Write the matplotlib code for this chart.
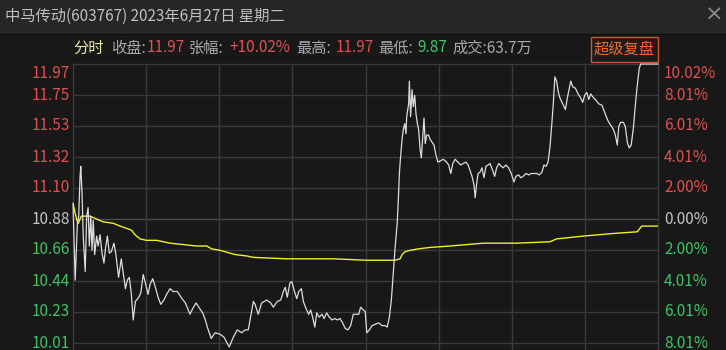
import matplotlib
matplotlib.use('Agg')
import matplotlib.pyplot as plt
from matplotlib.patches import Rectangle
import matplotlib.transforms as mtransforms

plt.rcParams['font.family'] = ['Noto Sans CJK SC', 'DejaVu Sans']

# 基本信息
stock_name = '中马传动'
stock_code = '603767'
trade_date = '2023年6月27日 星期二'
prev_close = 10.88
limit_up = 11.97
close_price = '11.97'
change_pct = '+10.02%'
high_price = '11.97'
low_price = '9.87'
volume = '63.7万'

# 分时价格 (9:30起的交易分钟, 价格)
price_min = [0, 0.9, 1.8, 2.3, 2.9, 3.2, 3.7, 4.2, 5.0, 5.6,
             6.2, 6.7, 7.3, 7.8, 8.3, 8.9, 9.7, 10.3, 11.1, 11.9,
             12.7, 13.3, 14.1, 14.9, 15.7, 16.8, 17.6, 18.7, 19.8, 20.6,
             21.5, 22.3, 23.1, 23.9, 24.7, 25.6, 27.0, 27.8, 28.8, 29.7,
             30.8, 31.6, 32.7, 33.8, 34.9, 36.0, 37.3, 38.4, 39.8, 41.1,
             42.8, 44.7, 46.1, 48.0, 49.1, 50.5, 51.6, 53.2, 54.3, 55.1,
             56.7, 58.3, 60.3, 61.9, 64.1, 65.8, 67.4, 69.2, 70.6, 71.9,
             74.0, 74.7, 76.0, 77.4, 79.5, 81.1, 82.2, 83.8, 85.2, 86.3,
             87.1, 87.9, 89.0, 89.8, 90.7, 91.8, 92.6, 93.7, 94.5, 95.6,
             96.7, 97.5, 98.3, 99.2, 100.0, 101.0, 102.2, 103.0, 104.1, 105.1,
             106.3, 107.4, 108.4, 109.5, 110.6, 111.7, 112.8, 113.9, 115.0, 116.4,
             117.2, 118.0, 119.1, 119.9, 120.5, 121.6, 122.7, 124.0, 125.4, 126.8,
             128.1, 128.9, 129.8, 130.6, 131.4, 132.2, 133.0, 133.5, 133.9, 134.4,
             135.0, 135.5, 136.1, 136.6, 136.9, 137.7, 138.0, 138.5, 139.1, 139.6,
             140.2, 140.7, 141.3, 141.8, 142.4, 142.9, 143.5, 144.0, 144.5, 145.1,
             145.9, 146.5, 147.3, 148.1, 148.9, 149.7, 150.9, 151.9, 153.3, 154.1,
             155.0, 155.8, 156.8, 157.9, 159.1, 160.1, 161.2, 162.1, 162.9, 163.7,
             164.5, 165.0, 165.6, 166.2, 167.0, 167.8, 168.6, 169.4, 170.3, 171.1,
             172.2, 173.0, 173.8, 174.7, 175.7, 176.5, 177.6, 178.7, 179.8, 180.9,
             181.7, 182.8, 183.7, 184.7, 185.8, 187.0, 188.0, 189.1, 190.2, 191.3,
             192.4, 193.2, 194.1, 194.9, 195.7, 196.4, 197.0, 197.7, 198.4, 199.1,
             199.8, 200.9, 202.0, 202.8, 203.6, 204.2, 205.0, 206.1, 207.2, 208.3,
             209.1, 209.9, 210.8, 211.6, 212.4, 213.2, 214.3, 215.7, 217.0, 218.1,
             219.0, 219.8, 220.6, 221.7, 222.5, 223.3, 223.9, 224.7, 225.8, 226.6,
             227.4, 228.2, 229.0, 229.9, 230.7, 231.5, 232.3, 232.9, 240]
price_val = [10.99, 10.45, 10.85, 10.89, 11.18, 11.25, 11.06, 10.76, 10.51, 10.90,
             10.96, 10.69, 10.90, 10.66, 10.87, 10.63, 10.76, 10.69, 10.77, 10.64,
             10.57, 10.67, 10.76, 10.64, 10.65, 10.71, 10.63, 10.47, 10.60, 10.50,
             10.39, 10.45, 10.47, 10.36, 10.17, 10.30, 10.33, 10.36, 10.49, 10.43,
             10.35, 10.42, 10.46, 10.40, 10.33, 10.28, 10.31, 10.35, 10.39, 10.37,
             10.37, 10.32, 10.29, 10.21, 10.25, 10.29, 10.26, 10.22, 10.17, 10.12,
             10.04, 10.08, 10.07, 10.05, 9.98, 10.05, 10.10, 10.08, 10.10, 10.10,
             10.30, 10.28, 10.21, 10.29, 10.31, 10.29, 10.26, 10.30, 10.31, 10.37,
             10.40, 10.33, 10.43, 10.44, 10.38, 10.32, 10.37, 10.39, 10.30, 10.25,
             10.21, 10.24, 10.19, 10.12, 10.22, 10.19, 10.21, 10.18, 10.22, 10.19,
             10.17, 10.18, 10.17, 10.18, 10.15, 10.11, 10.10, 10.13, 10.21, 10.21,
             10.21, 10.26, 10.24, 10.23, 10.08, 10.10, 10.13, 10.14, 10.15, 10.13,
             10.13, 10.12, 10.19, 10.31, 10.50, 10.69, 10.85, 11.03, 11.20, 11.32,
             11.44, 11.51, 11.55, 11.48, 11.60, 11.69, 11.85, 11.60, 11.79, 11.67,
             11.75, 11.62, 11.55, 11.51, 11.37, 11.31, 11.46, 11.59, 11.41, 11.47,
             11.47, 11.44, 11.42, 11.40, 11.33, 11.28, 11.29, 11.30, 11.28, 11.26,
             11.20, 11.27, 11.30, 11.28, 11.26, 11.27, 11.28, 11.26, 11.22, 11.18,
             11.12, 11.03, 11.13, 11.20, 11.21, 11.24, 11.17, 11.25, 11.26, 11.27,
             11.22, 11.18, 11.24, 11.27, 11.25, 11.24, 11.26, 11.24, 11.20, 11.14,
             11.18, 11.19, 11.17, 11.18, 11.20, 11.19, 11.20, 11.20, 11.20, 11.19,
             11.21, 11.26, 11.25, 11.28, 11.39, 11.54, 11.68, 11.88, 11.85, 11.77,
             11.73, 11.69, 11.65, 11.73, 11.80, 11.85, 11.81, 11.80, 11.76, 11.73,
             11.70, 11.75, 11.77, 11.72, 11.76, 11.74, 11.72, 11.69, 11.68, 11.63,
             11.59, 11.56, 11.54, 11.51, 11.47, 11.40, 11.53, 11.56, 11.56, 11.53,
             11.42, 11.38, 11.40, 11.52, 11.68, 11.82, 11.94, 11.97, 11.97]

# 均价线
avg_min = [0, 0.9, 1.8, 2.2, 3.4, 5.3, 7.0, 9.7, 12.4, 16.5,
           19.3, 22.7, 24.1, 25.4, 27.5, 30.2, 34.3, 39.8, 45.3, 50.7,
           54.9, 56.9, 60.3, 64.4, 66.5, 71.3, 74.0, 87.7, 106.8, 120.5,
           130.1, 132.1, 134.2, 135.0, 136.2, 138.3, 141.7, 146.5, 154.7, 168.3,
           182.0, 195.7, 198.4, 209.4, 223.0, 231.5, 233.3, 240]
avg_val = [10.99, 10.92, 10.86, 10.85, 10.90, 10.90, 10.90, 10.88, 10.86, 10.85,
           10.83, 10.81, 10.80, 10.77, 10.74, 10.73, 10.73, 10.71, 10.70, 10.69,
           10.69, 10.67, 10.66, 10.64, 10.63, 10.62, 10.61, 10.60, 10.60, 10.59,
           10.59, 10.59, 10.60, 10.63, 10.65, 10.66, 10.67, 10.68, 10.69, 10.71,
           10.71, 10.72, 10.74, 10.76, 10.78, 10.79, 10.83, 10.83]

# 颜色
bg = '#181818'
bar_bg = '#262626'
grid_c = '#3a3a3a'
red = '#e05050'
green = '#3ec464'
gray = '#a8a8a8'

W, H = 726, 350
fig = plt.figure(figsize=(W / 100, H / 100), dpi=100, facecolor=bg)

# 标题栏
fig.patches.append(Rectangle((0, 1 - 34 / H), 1, 34 / H, transform=fig.transFigure,
                             facecolor=bar_bg, edgecolor='none', zorder=0))
fig.patches.append(Rectangle((0, 1 - 35 / H), 1, 1.2 / H, transform=fig.transFigure,
                             facecolor='#0c0c0c', edgecolor='none', zorder=0))
fig.text(5 / W, 1 - 16 / H, f'{stock_name}({stock_code}) {trade_date}',
         color='#c0c0c0', fontsize=11, va='center', ha='left')
fig.text(724 / W, 1 - 15 / H, '×', color='#8a8a8a', fontsize=16,
         va='center', ha='right', family='DejaVu Sans')

# 信息行
info_y = 1 - 48 / H
pieces = [('分时', '#e8e8a8', 73), ('收盘:', gray, 111), (close_price, red, 147),
          ('张幅:', gray, 189), (change_pct, red, 229), ('最高:', gray, 296),
          (high_price, red, 336), ('最低:', gray, 378), (low_price, green, 417),
          ('成交:' + volume, gray, 452)]
for txt, col, px in pieces:
    fig.text(px / W, info_y, txt, color=col, fontsize=11, va='center', ha='left')

# 超级复盘按钮
fig.patches.append(Rectangle((591 / W, 1 - 62 / H), 67 / W, 25 / H, transform=fig.transFigure,
                             facecolor='#1c1c1c', edgecolor='#c85a2a', lw=1.0, zorder=1))
fig.text(624.5 / W, 1 - 49.5 / H, '超级复盘', color='#ee6a2c', fontsize=11,
         va='center', ha='center', zorder=2)

# 主图
ax = fig.add_axes([73 / W, 0, 585 / W, 286 / H])
ax.set_facecolor(bg)
step = (limit_up - prev_close) / 5
px_price = step / 31
ax.set_xlim(0, 240)
ax.set_ylim(limit_up - 286 * px_price, limit_up)

for k in range(-4, 5):
    lvl = prev_close + step * k
    ax.axhline(lvl, color='#4a4a4a' if k == 0 else grid_c, lw=1.0, zorder=1)
for m in range(30, 240, 30):
    ax.axvline(m, color=grid_c, lw=1.0, zorder=1)

for s in ax.spines.values():
    s.set_color(grid_c)
    s.set_linewidth(1.0)
ax.spines['bottom'].set_visible(False)
ax.set_xticks([])
ax.set_yticks([])

ax.plot(avg_min, avg_val, color='#f0f02c', lw=1.0, zorder=3)
ax.plot(price_min, price_val, color='#dcdcdc', lw=0.9, zorder=4, clip_on=False)

# 左右刻度文字
tr = mtransforms.blended_transform_factory(ax.transAxes, ax.transData)
for k in range(-4, 6):
    lvl = prev_close + step * k
    pct = abs(lvl - prev_close) / prev_close * 100
    col = red if k > 0 else (green if k < 0 else '#c4c4c4')
    va = 'top' if k == 5 else 'center'
    y = lvl - 1.5 * px_price if k == 5 else lvl
    ax.text(-3 / 585, y, f'{lvl:.2f}', color=col, fontsize=11, ha='right', va=va,
            transform=tr, clip_on=False)
    ax.text(1 + 6 / 585, y, f'{pct:.2f}%', color=col, fontsize=11, ha='left', va=va,
            transform=tr, clip_on=False)

fig.savefig('out.png', dpi=100, facecolor=fig.get_facecolor())
